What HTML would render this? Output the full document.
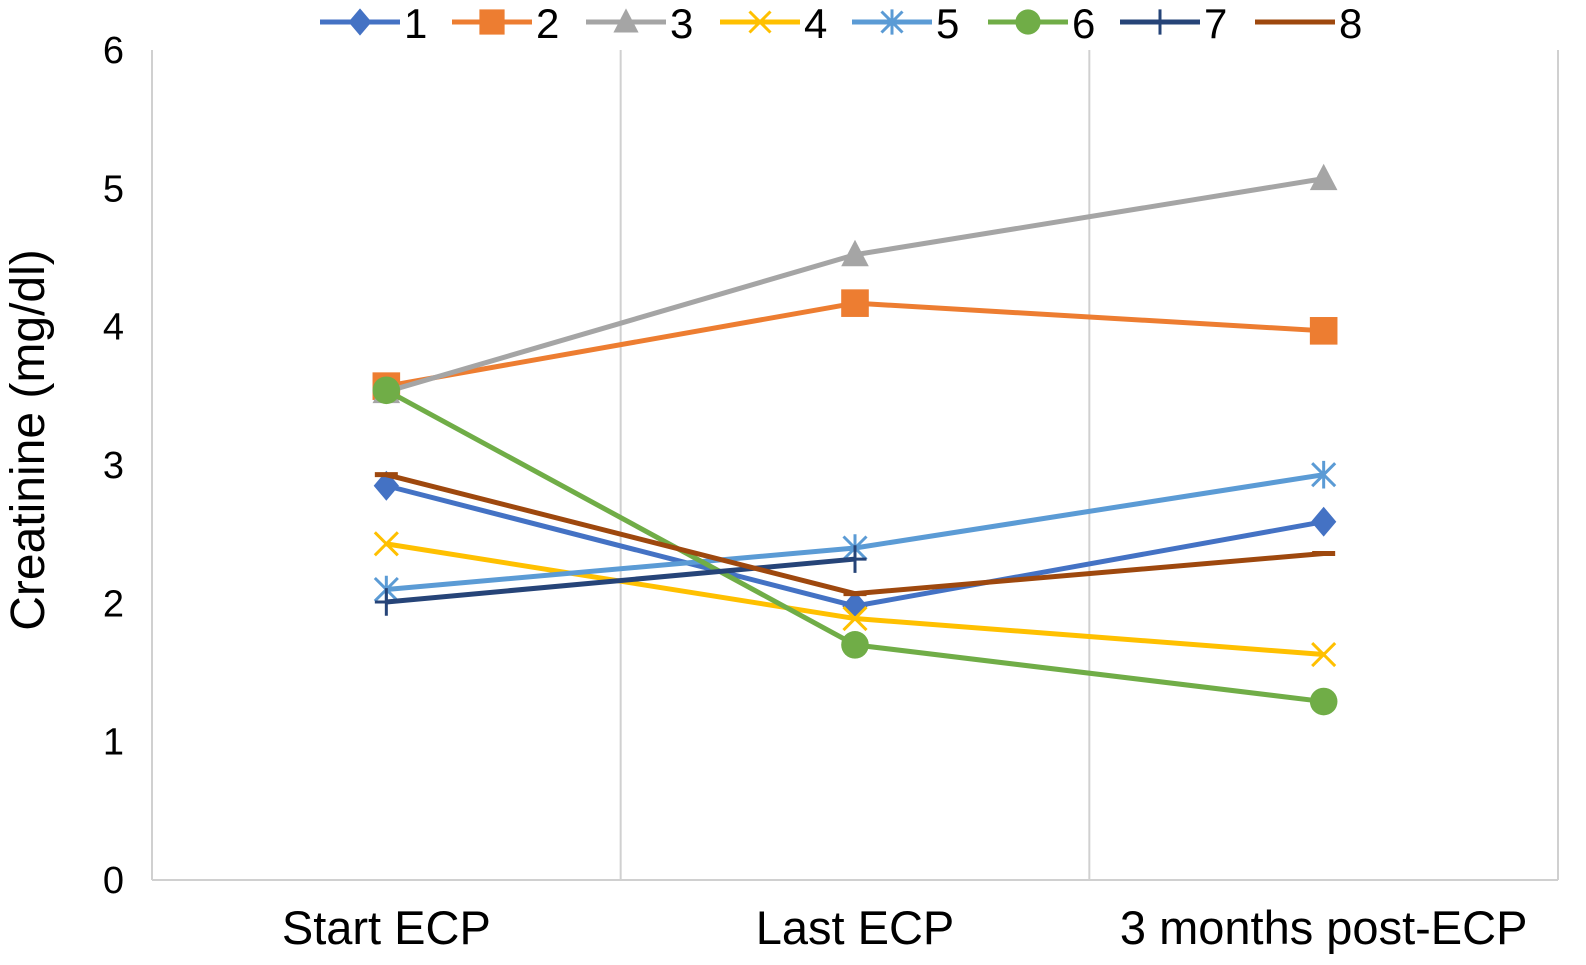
<!DOCTYPE html>
<html><head><meta charset="utf-8"><style>
html,body{margin:0;padding:0;background:#fff;}
svg{display:block;font-family:"Liberation Sans",sans-serif;}
</style></head><body>
<svg id="chart" width="1586" height="965"></svg>
<script>
const categories=["Start ECP","Last ECP","3 months post-ECP"];
const seriesNames=["1","2","3","4","5","6","7","8"];
const s1=[2.85,1.98,2.59];
const s2=[3.57,4.17,3.97];
const s3=[3.53,4.52,5.07];
const s4=[2.43,1.89,1.63];
const s5=[2.10,2.40,2.93];
const s6=[3.54,1.70,1.29];
const s7=[2.01,2.32,null];
const s8=[2.93,2.07,2.36];
const yTicks=[0,1,2,3,4,5,6];
const colors=["#4472C4","#ED7D31","#A5A5A5","#FFC000","#5B9BD5","#70AD47","#264478","#9E480E"];
const markers=["diamond","square","triangle","x","star","circle","plus","dash"];
const series=[s1,s2,s3,s4,s5,s6,s7,s8];
const NS="http://www.w3.org/2000/svg";
const svg=document.getElementById('chart');
const L=152,R=1558,T=50,B=880;
const y=v=>B-(v/6)*(B-T);
const bw=(R-L)/categories.length;
const x=i=>L+bw*(i+0.5);
function el(t,a,p){const e=document.createElementNS(NS,t);for(const k in a)e.setAttribute(k,a[k]);(p||svg).appendChild(e);return e;}
for(let i=1;i<=categories.length;i++){const g=el('line',{x1:L+bw*i,x2:L+bw*i,y1:T,y2:B,stroke:'#d0d0d0','stroke-width':2});

}
const ax=el('line',{x1:L,x2:L,y1:T,y2:B,stroke:'#d0d0d0','stroke-width':2});


const xa=el('line',{x1:L,x2:R,y1:B,y2:B,stroke:'#d0d0d0','stroke-width':2});


yTicks.forEach(v=>{const t=el('text',{x:124,y:y(v)+13,'font-size':38,'text-anchor':'end',fill:'#000'});t.textContent=v;

});
categories.forEach((c,i)=>{const t=el('text',{x:x(i),y:944,'font-size':47,'text-anchor':'middle',fill:'#000'});t.textContent=c;

});
const yt=el('text',{x:0,y:0,'font-size':48,'text-anchor':'middle',fill:'#000',transform:'translate(44,440) rotate(-90)'});yt.textContent='Creatinine (mg/dl)';


function marker(g,type,cx,cy,c,sc){sc=sc||1;
 if(type==='diamond')el('polygon',{points:`${cx},${cy-13*sc} ${cx+11*sc},${cy} ${cx},${cy+13*sc} ${cx-11*sc},${cy}`,fill:c},g);
 else if(type==='square')el('rect',{x:cx-12*sc,y:cy-12*sc,width:24*sc,height:24*sc,fill:c},g);
 else if(type==='triangle')el('polygon',{points:`${cx},${cy-13*sc} ${cx+12*sc},${cy+10*sc} ${cx-12*sc},${cy+10*sc}`,fill:c},g);
 else if(type==='circle')el('circle',{cx,cy,r:12*sc,fill:c},g);
 else if(type==='x'){el('path',{d:`M${cx-10*sc} ${cy-10*sc}L${cx+10*sc} ${cy+10*sc}M${cx+10*sc} ${cy-10*sc}L${cx-10*sc} ${cy+10*sc}`,stroke:c,'stroke-width':3,fill:'none'},g);}
 else if(type==='star'){el('path',{d:`M${cx-10*sc} ${cy-10*sc}L${cx+10*sc} ${cy+10*sc}M${cx+10*sc} ${cy-10*sc}L${cx-10*sc} ${cy+10*sc}M${cx} ${cy-12*sc}L${cx} ${cy+12*sc}`,stroke:c,'stroke-width':3,fill:'none'},g);}
 else if(type==='plus'){el('path',{d:`M${cx-10*sc} ${cy}L${cx+10*sc} ${cy}M${cx} ${cy-12*sc}L${cx} ${cy+12*sc}`,stroke:c,'stroke-width':3,fill:'none'},g);}
 else if(type==='dash'){el('path',{d:`M${cx-10*sc} ${cy}L${cx+10*sc} ${cy}`,stroke:c,'stroke-width':5,fill:'none'},g);}
}
series.forEach((s,si)=>{
 const g=el('g',{});
 
 
 let d='';s.forEach((v,i)=>{if(v==null)return;d+=(d?'L':'M')+x(i)+' '+y(v);});
 const p=el('path',{d,stroke:colors[si],'stroke-width':5,fill:'none','stroke-linejoin':'round'},g);
 
 
 s.forEach((v,i)=>{if(v==null)return;marker(g,markers[si],x(i),y(v),colors[si],1.15);});
});
const lx=[320,452,586,720,852,988,1120,1255];
seriesNames.forEach((n,i)=>{
 const g=el('g',{});
 
 
 el('line',{x1:lx[i],x2:lx[i]+80,y1:22,y2:22,stroke:colors[i],'stroke-width':5},g);
 marker(g,markers[i],lx[i]+40,22,colors[i],1.05);
 const t=el('text',{x:lx[i]+84,y:38,'font-size':42,fill:'#000'},g);t.textContent=n;
});
</script>
</body></html>
